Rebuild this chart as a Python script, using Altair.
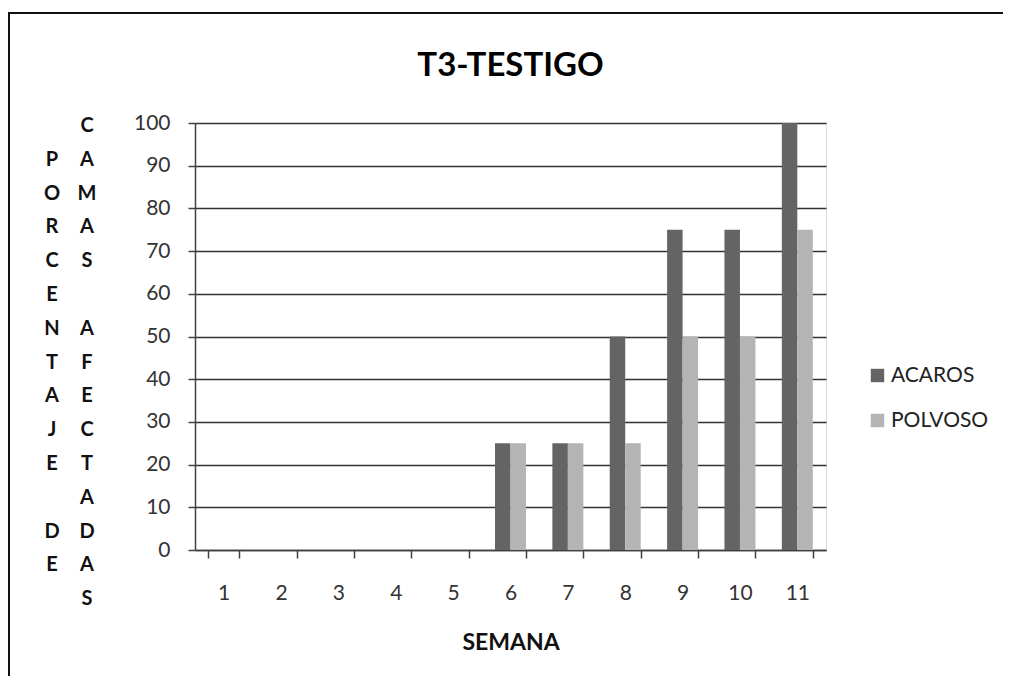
import altair as alt
import pandas as pd

SEMANAS = ["1", "2", "3", "4", "5", "6", "7", "8", "9", "10", "11"]
ACAROS = [0, 0, 0, 0, 0, 25, 25, 50, 75, 75, 100]
POLVOSO = [0, 0, 0, 0, 0, 25, 25, 25, 50, 50, 75]
SERIES = ["ACAROS", "POLVOSO"]
COLORS = ["#646464", "#b4b4b4"]
Y_TICKS = [0, 10, 20, 30, 40, 50, 60, 70, 80, 90, 100]
TITLE = "T3-TESTIGO"
X_TITLE = "SEMANA"
# vertical y-axis title, two columns of stacked letters ("" = empty row)
Y_TITLE_COL1 = ["", "P", "O", "R", "C", "E", "N", "T", "A", "J", "E", "", "D", "E"]
Y_TITLE_COL2 = ["C", "A", "M", "A", "S", "", "A", "F", "E", "C", "T", "A", "D", "A", "S"]

rows = []
for i, s in enumerate(SEMANAS):
    rows.append({"semana": s, "serie": SERIES[0], "valor": ACAROS[i]})
    rows.append({"semana": s, "serie": SERIES[1], "valor": POLVOSO[i]})
df = pd.DataFrame(rows)
one = pd.DataFrame({"k": [0]})

W, H = 631, 427
FONT = "Lato"
LH = 33.8


def blocks(letters):
    """Split a column of letters into runs of consecutive non-empty rows."""
    out, start, cur = [], None, []
    for i, ch in enumerate(letters + [""]):
        if ch:
            if start is None:
                start = i
            cur.append(ch)
        elif cur:
            out.append((start, cur))
            start, cur = None, []
    return out


bars = alt.Chart(df).mark_bar().encode(
    x=alt.X(
        "semana:N",
        sort=SEMANAS,
        scale=alt.Scale(paddingInner=0.46, paddingOuter=0.23),
        axis=alt.Axis(
            title=X_TITLE,
            labelAngle=0,
            tickBand="extent",
            grid=False,
            domainColor="#404040",
            domainWidth=1.5,
            tickColor="#404040",
            tickWidth=1.5,
            tickSize=8,
            labelFont=FONT,
            labelFontSize=21,
            labelColor="#333333",
            labelPadding=24,
            titleFont=FONT,
            titleFontSize=23,
            titleFontWeight="bold",
            titleColor="#111111",
            titlePadding=28,
        ),
    ),
    xOffset=alt.XOffset("serie:N", sort=SERIES),
    y=alt.Y(
        "valor:Q",
        scale=alt.Scale(domain=[0, 100], nice=False),
        axis=alt.Axis(
            values=Y_TICKS,
            title=None,
            grid=True,
            gridColor="#333333",
            gridWidth=1.3,
            domainColor="#404040",
            domainWidth=1.5,
            tickColor="#404040",
            tickWidth=1.5,
            tickSize=7,
            labelFont=FONT,
            labelFontSize=21,
            labelColor="#333333",
            labelPadding=18,
        ),
    ),
    color=alt.Color(
        "serie:N",
        sort=SERIES,
        scale=alt.Scale(domain=SERIES, range=COLORS),
        legend=alt.Legend(
            title=None,
            orient="none",
            legendX=672,
            legendY=242,
            symbolType="square",
            symbolSize=180,
            symbolStrokeWidth=0,
            labelFont=FONT,
            labelFontSize=21,
            labelColor="#222222",
            labelOffset=3,
            rowPadding=23,
            padding=0,
        ),
    ),
)

border = alt.Chart(one).mark_rect(
    fillOpacity=0, stroke="#111111", strokeWidth=2
).encode(
    x=alt.value(-186), x2=alt.value(W + 400), y=alt.value(-110), y2=alt.value(H + 400)
)

title = alt.Chart(one).mark_text(
    font=FONT, fontSize=33, fontWeight="bold", align="center", baseline="alphabetic", color="#000000"
).encode(x=alt.value(W / 2), y=alt.value(-47), text=alt.value(TITLE))

layers = [bars, border, title]
for xpos, col in ((-143, Y_TITLE_COL1), (-108, Y_TITLE_COL2)):
    for start, letters in blocks(col):
        layers.append(
            alt.Chart(one).mark_text(
                font=FONT, fontSize=20, fontWeight="bold", align="center", baseline="top",
                lineBreak="\n", lineHeight=LH, color="#111111"
            ).encode(
                x=alt.value(xpos),
                y=alt.value(-7 + start * LH),
                text=alt.value("\n".join(letters)),
            )
        )

chart = alt.layer(*layers).properties(
    width=W,
    height=H,
    autosize=alt.AutoSizeParams(type="none"),
    padding={"left": 187, "top": 115, "right": 177, "bottom": 126},
).configure_view(stroke=None).configure(background="white")

chart.save("out.html", embed_options={"renderer": "svg", "actions": False})
